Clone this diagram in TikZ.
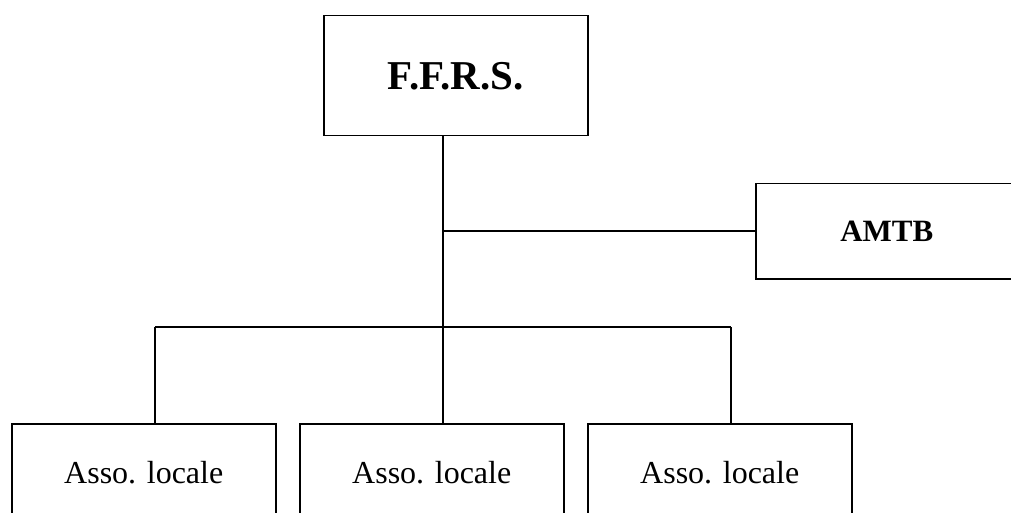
\documentclass[tikz,border=0pt]{standalone}
\usepackage{fontspec}
\setmainfont{Liberation Serif}
\begin{document}
\begin{tikzpicture}[x=1pt,y=-1pt,line width=1.5pt,
  box/.style={draw,rectangle,inner sep=0pt,anchor=north west},
  big/.style={font=\bfseries\fontsize{41}{47}\selectfont},
  mid/.style={font=\bfseries\fontsize{31}{36}\selectfont},
  small/.style={font=\fontsize{32}{38}\selectfont}]
\useasboundingbox (0,0) rectangle (1011,513);
\clip (0,0) rectangle (1011,513);
\node[box,big,minimum width=264pt,minimum height=120pt] (ffrs) at (323,15) {F.F.R.S.};
\node[box,mid,minimum width=262pt,minimum height=95pt] (amtb) at (755,183) {AMTB};
\node[box,small,minimum width=264pt,minimum height=98pt] (a1) at (11,423) {Asso. locale};
\node[box,small,minimum width=264pt,minimum height=98pt] (a2) at (299,423) {Asso. locale};
\node[box,small,minimum width=264pt,minimum height=98pt] (a3) at (587,423) {Asso. locale};
\coordinate (j) at (443,231);
\coordinate (bus) at (443,327);
\coordinate (busL) at (155,327);
\coordinate (busR) at (731,327);
\draw (ffrs.south -| bus) -- (bus);
\draw (j) -- (j -| amtb.west);
\draw (busL) -- (busR);
\draw (busL) -- (busL |- a1.north);
\draw (bus) -- (bus |- a2.north);
\draw (busR) -- (busR |- a3.north);
\end{tikzpicture}
\end{document}
